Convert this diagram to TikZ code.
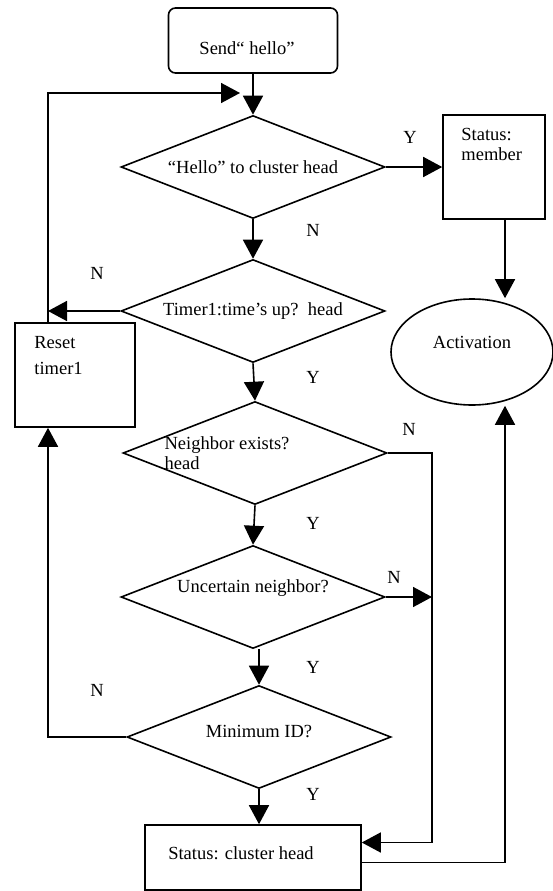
\documentclass[tikz,border=0pt]{standalone}
\usepackage{fontspec}
\setmainfont{Liberation Serif}
\usetikzlibrary{shapes.geometric}
\usetikzlibrary{arrows.meta}
\usetikzlibrary{calc}

\begin{document}
\begin{tikzpicture}
  [
    x=1pt, y=-1pt,
    every node/.style={font=\fontsize{18.5}{20}\selectfont},
    box/.style      = {draw, rectangle, line width=1.6pt, inner sep=0pt},
    start/.style    = {box, rounded corners=7pt, minimum width=169pt, minimum height=65pt},
    decision/.style = {draw, diamond, aspect=2.6, line width=1.6pt, inner sep=0pt,
                       minimum width=264pt, minimum height=103pt},
    txt/.style      = {inner sep=0pt, align=left},
    flow/.style     = {line width=1.6pt, -{Triangle[length=19pt,width=20pt]}},
  ]

  \useasboundingbox (0,0) rectangle (552,891);

  % loop lines
  \coordinate (lp) at (48,93);
  \coordinate (rv) at (432,0);
  \coordinate (ax) at (505,0);

  \node (hello) at (253,40.5) [start,
    label={[txt, xshift=-6pt, yshift=-8pt]center:{Send“ hello”}}] {};
  \node (hd) at (253,167) [decision] {“Hello” to cluster head};
  \node (mem) at (494,167) [box, minimum width=102pt, minimum height=104pt,
    label={[txt, anchor=north west, xshift=19pt, yshift=-14pt]north west:{Status:\\member}}] {};
  \node (act) at (472,352) [draw, ellipse, line width=1.6pt, minimum width=162pt, minimum height=106pt,
    label={[txt, yshift=10pt]center:Activation}] {};

  \node (timer) at (253,311) [decision] {Timer1:time’s up?\ \ head};
  \node (reset) at (75,375) [box, minimum width=120pt, minimum height=104pt,
    label={[txt, anchor=north west, xshift=20pt, yshift=-14pt,
      font=\fontsize{18.5}{26}\selectfont]north west:{Reset\\timer1}}] {};

  \node (nbr) at (255,453) [decision,
    label={[txt, xshift=-28pt]center:{Neighbor exists?\\head}}] {};
  \node (unc) at (253,597) [decision,
    label={[txt, yshift=9pt]center:{Uncertain neighbor?}}] {};
  \node (minid) at (259,737) [decision,
    label={[txt, yshift=6pt]center:{Minimum ID?}}] {};
  \node (head) at (253,857.5) [box, minimum width=216pt, minimum height=65pt,
    label={[txt, xshift=-12pt, yshift=4pt]center:{Status: cluster head}}] {};

  % Y / N
  \node (y1) at (410,137) {Y};
  \node (n1) at (313,230) {N};
  \node (n2) at (97,273) {N};
  \node (y2) at (313,377) {Y};
  \node (n3) at (409,429) {N};
  \node (y3) at (313,523) {Y};
  \node (n4) at (394,577) {N};
  \node (y4) at (313,667) {Y};
  \node (n5) at (97,690) {N};
  \node (y5) at (313,794) {Y};

  \draw[flow] (hello) -- (hd);
  \draw[flow] (reset.north -| lp) -- (lp) -- ([xshift=-13pt]lp -| hd.north);
  \draw[flow] (hd.east) -- (mem.west);
  \draw[flow] (hd.south) -- (timer.north);
  \draw[flow] (mem.south -| ax) -- (act.north -| ax);
  \draw[flow] (timer.west) -- (timer.west -| lp);
  \draw[flow] (timer.south) -- (nbr.north);
  \draw[flow] (nbr.east) -| ([yshift=15pt]head.east -| rv) -- ([yshift=15pt]head.east);
  \draw[flow] (nbr.south) -- (unc.north);
  \draw[flow] (unc.east) -- (unc.east -| rv);
  \draw[flow] (minid.north |- unc.south) -- (minid.north);
  \draw[flow] (minid.west) -| (reset.south -| lp);
  \draw[flow] (minid.south) -- (minid.south |- head.north);
  \draw[flow] ([yshift=-5pt]head.east) -| (act.south -| ax);

\end{tikzpicture}
\end{document}
